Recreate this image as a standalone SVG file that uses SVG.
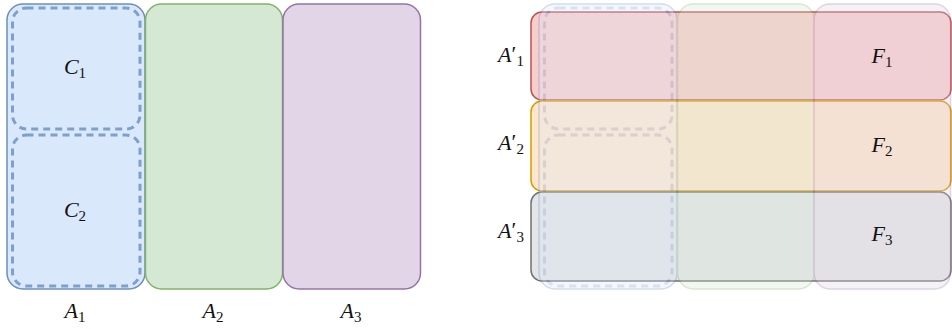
<svg xmlns="http://www.w3.org/2000/svg" width="952" height="329" viewBox="0 0 952 329">
<style>
.math{font-family:"Liberation Serif","DejaVu Serif",serif;font-size:22px;fill:#111;}
.it{font-style:italic;}
.sub{font-size:15px;}
.pr{font-size:22px;}
.colA1{fill:#dae8fc;stroke:#6c8ebf;stroke-width:1.5;}
.colA2{fill:#d5e8d4;stroke:#82b366;stroke-width:1.5;}
.colA3{fill:#e1d5e7;stroke:#9673a6;stroke-width:1.5;}
.dash{fill:#dae8fc;stroke:#7f9fcc;stroke-width:3;stroke-dasharray:7 5;}
.rowR{fill:#f8cecc;stroke:#b85450;stroke-width:1.5;}
.rowO{fill:#ffe6cc;stroke:#d79b00;stroke-width:1.5;}
.rowG{fill:#e4e5e6;stroke:#707070;stroke-width:1.5;}
</style>
<rect width="952" height="329" fill="#ffffff"/>

<!-- Left diagram -->
<g id="A1">
<rect class="colA1" x="7" y="4" width="138" height="285" rx="16"/>
</g>
<g id="C1">
<rect class="dash" x="12.5" y="8" width="127.5" height="121" rx="14"/>
<text class="math" x="75" y="74" text-anchor="middle"><tspan class="it">C</tspan><tspan class="sub" dy="4">1</tspan></text>
</g>
<g id="C2">
<rect class="dash" x="12.5" y="135" width="127.5" height="151" rx="14"/>
<text class="math" x="75" y="217" text-anchor="middle"><tspan class="it">C</tspan><tspan class="sub" dy="4">2</tspan></text>
</g>
<g id="A2">
<rect class="colA2" x="145.5" y="4" width="137" height="285" rx="16"/>
</g>
<g id="A3">
<rect class="colA3" x="283" y="4" width="137.5" height="285" rx="16"/>
</g>
<g id="labels-left">
<text class="math" x="75" y="318" text-anchor="middle"><tspan class="it">A</tspan><tspan class="sub" dy="4">1</tspan></text>
<text class="math" x="213" y="318" text-anchor="middle"><tspan class="it">A</tspan><tspan class="sub" dy="4">2</tspan></text>
<text class="math" x="351" y="318" text-anchor="middle"><tspan class="it">A</tspan><tspan class="sub" dy="4">3</tspan></text>
</g>

<!-- Right diagram: rows -->
<g id="Ap1">
<rect class="rowR" x="531" y="12" width="420" height="88" rx="11"/>
<text class="math" x="511" y="62" text-anchor="middle"><tspan class="it">A</tspan><tspan class="pr" dy="-1">′</tspan><tspan class="sub" dy="5">1</tspan></text>
</g>
<g id="Ap2">
<rect class="rowO" x="531" y="101" width="420" height="90" rx="11"/>
<text class="math" x="511" y="150" text-anchor="middle"><tspan class="it">A</tspan><tspan class="pr" dy="-1">′</tspan><tspan class="sub" dy="5">2</tspan></text>
</g>
<g id="Ap3">
<rect class="rowG" x="531" y="192" width="420" height="89" rx="11"/>
<text class="math" x="511" y="238" text-anchor="middle"><tspan class="it">A</tspan><tspan class="pr" dy="-1">′</tspan><tspan class="sub" dy="5">3</tspan></text>
</g>

<!-- Right diagram: faded columns on top -->
<g id="faded-columns" opacity="0.3">
<g id="fA1">
<rect class="colA1" x="539" y="4" width="138" height="285" rx="16"/>
<rect class="dash" x="544.5" y="8" width="127.5" height="121" rx="14"/>
<rect class="dash" x="544.5" y="135" width="127.5" height="151" rx="14"/>
</g>
<g id="fA2">
<rect class="colA2" x="677.5" y="4" width="137" height="285" rx="16"/>
</g>
<g id="fA3">
<rect class="colA3" x="814" y="4" width="136.5" height="285" rx="16"/>
</g>
</g>

<g id="F-labels">
<text class="math" x="882" y="63" text-anchor="middle"><tspan class="it">F</tspan><tspan class="sub" dy="4">1</tspan></text>
<text class="math" x="882" y="152" text-anchor="middle"><tspan class="it">F</tspan><tspan class="sub" dy="4">2</tspan></text>
<text class="math" x="882" y="241" text-anchor="middle"><tspan class="it">F</tspan><tspan class="sub" dy="4">3</tspan></text>
</g>
<g id="connectors"/>
</svg>
